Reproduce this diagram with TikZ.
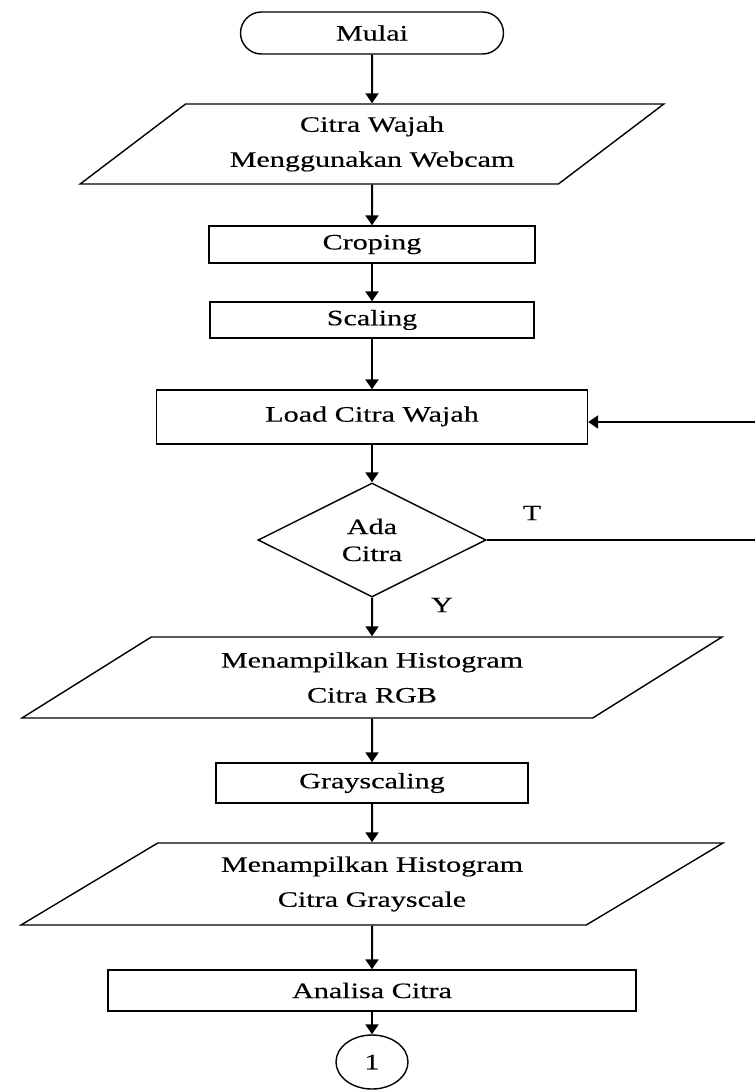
\documentclass[tikz,border=0pt]{standalone}
\usepackage{fontspec}
\setmainfont{Liberation Serif}[FakeStretch=1.37,FakeBold=0.3]
\usetikzlibrary{shapes.geometric,arrows.meta}
\begin{document}
\begin{tikzpicture}[x=1pt,y=-1pt,
  every node/.style={font=\fontsize{22}{35}\selectfont, align=center, inner sep=0pt},
  proc/.style={draw, line width=1.4pt, rectangle},
  term/.style={draw, line width=1.4pt, rectangle, rounded corners=21pt},
  io/.style={draw, line width=1.4pt, shape=trapezium, trapezium stretches=true},
  decision/.style={draw, line width=1.4pt, shape=diamond},
  conn/.style={draw, line width=1.4pt, ellipse},
  flow/.style={line width=2pt, -{Triangle[length=10pt,width=13pt]}},
  plain/.style={line width=1.6pt}]
\useasboundingbox (0,0) rectangle (755,1090);

% process chain
\node[term, minimum width=263pt, minimum height=42pt] (mulai) at (372,33) {\raisebox{-3pt}{Mulai}};
\node[io, trapezium left angle=34.36, trapezium right angle=145.64,
      minimum width=584pt, minimum height=80pt] (input) at (372,144) {Citra Wajah\\Menggunakan Webcam};
\node[proc, minimum width=326pt, minimum height=37pt] (crop) at (372,244.5) {Croping};
\node[proc, minimum width=324pt, minimum height=36pt] (scale) at (372,320) {Scaling};
\node[proc, minimum width=431pt, minimum height=54pt] (load) at (372,417) {\raisebox{6pt}{Load Citra Wajah}};
\node[decision, minimum width=228pt, minimum height=114pt,
      font=\fontsize{22}{27}\selectfont] (ada) at (372,540) {Ada\\Citra};
\node[io, trapezium left angle=29.7, trapezium right angle=150.3,
      minimum width=704pt, minimum height=81pt] (rgb) at (372,677.5) {Menampilkan Histogram\\Citra RGB};
\node[proc, minimum width=312pt, minimum height=40pt] (gray) at (372,783) {Grayscaling};
\node[io, trapezium left angle=29.7, trapezium right angle=150.3,
      minimum width=704pt, minimum height=82pt] (grayout) at (372,884) {Menampilkan Histogram\\Citra Grayscale};
\node[proc, minimum width=528pt, minimum height=41pt] (analisa) at (372,990.5) {Analisa Citra};
\node[conn, minimum width=72pt, minimum height=54pt] (one) at (372,1062) {1};

% branch labels
\node (tlab) at (532,513) {T};
\node (ylab) at (442,605) {Y};

% loop-back ends at the right margin
\coordinate (tend) at (755,540);
\coordinate (lend) at (755,422);

% connectors
\draw[flow] (mulai.south) -- (input.north);
\draw[flow] (input.south) -- (crop.north);
\draw[flow] (crop.south) -- (scale.north);
\draw[flow] (scale.south) -- (load.north);
\draw[flow] (load.south) -- (ada.north);
\draw[flow] (ada.south) -- (rgb.north);
\draw[flow] (rgb.south) -- (gray.north);
\draw[flow] (gray.south) -- (grayout.north);
\draw[flow] (grayout.south) -- (analisa.north);
\draw[flow] (analisa.south) -- (one.north);
\draw[plain] (ada.east) -- (tend);
\draw[flow] (lend) -- (lend -| load.east);
\end{tikzpicture}
\end{document}
